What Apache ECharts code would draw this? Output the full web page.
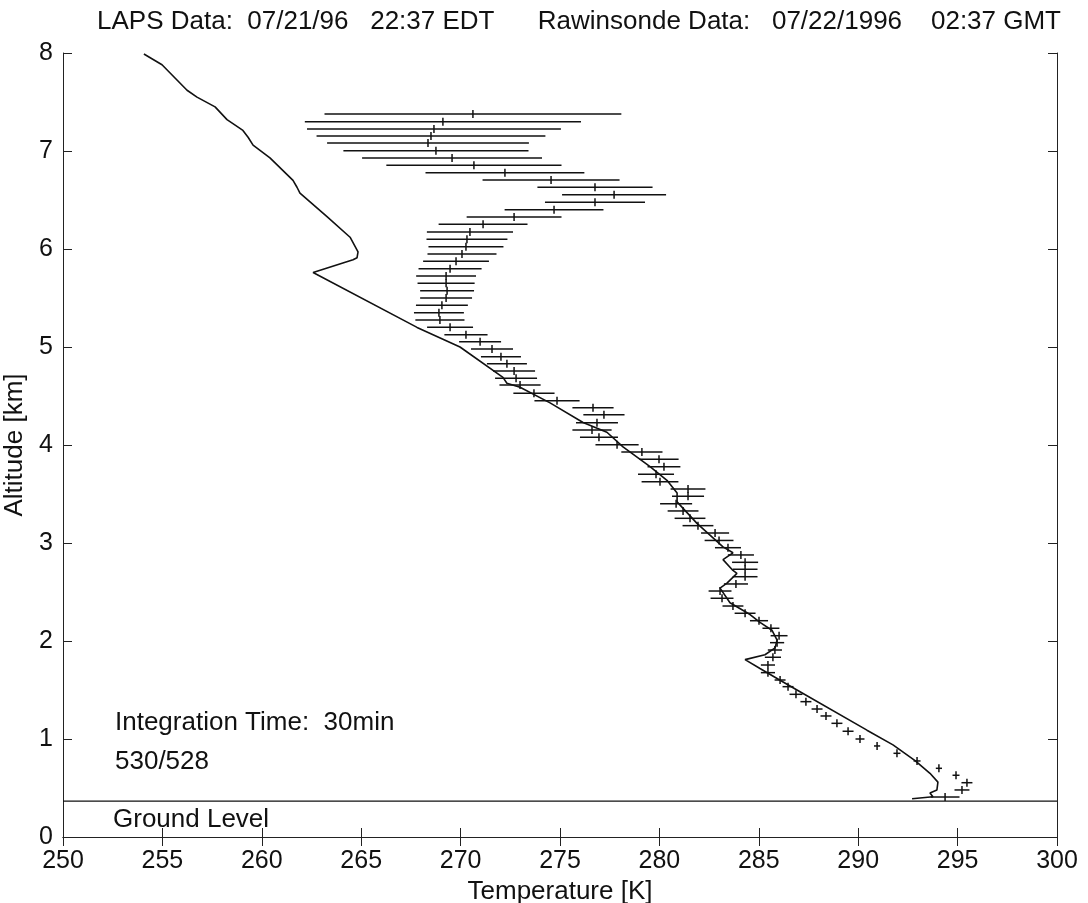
<!DOCTYPE html>
<html>
<head>
<meta charset="utf-8">
<title>LAPS vs Rawinsonde</title>
<script src="https://cdn.jsdelivr.net/npm/echarts@6/dist/echarts.min.js"></script>
<style>
  html, body { margin: 0; padding: 0; background: #fff; }
  #chart { width: 1088px; height: 903px; }
</style>
</head>
<body>
<div id="chart"></div>
<script>
// LAPS temperature profile (solid line)
var lapsTemp = [254.07,254.98,256.24,256.74,257.65,258.25,259.05,259.31,259.56,260.41,261.57,261.77,261.92,263.28,264.44,264.84,264.79,264.59,262.58,267.81,269.97,272.13,272.33,272.99,274.50,276.16,277.36,278.17,279.53,280.38,280.89,280.89,281.89,283.20,283.70,283.20,283.70,283.90,283.40,283.05,283.55,284.56,285.06,285.66,285.92,285.82,285.31,284.31,285.06,286.07,286.92,290.44,291.75,292.86,292.96,293.61,294.01,293.96,293.61,293.76,292.71];
var lapsAlt = [7.99,7.88,7.62,7.55,7.45,7.32,7.21,7.14,7.06,6.93,6.70,6.63,6.57,6.33,6.12,5.97,5.91,5.89,5.76,5.20,5.00,4.69,4.63,4.59,4.43,4.23,4.13,3.98,3.78,3.64,3.51,3.42,3.20,2.96,2.90,2.83,2.72,2.69,2.59,2.54,2.39,2.27,2.19,2.11,2.01,1.93,1.86,1.81,1.72,1.60,1.50,1.09,0.94,0.78,0.76,0.65,0.56,0.48,0.45,0.41,0.39];

// rawinsonde / lidar retrieval with error bars
var sondeAlt = [7.378,7.299,7.224,7.153,7.082,7.003,6.929,6.854,6.779,6.704,6.630,6.554,6.477,6.401,6.327,6.252,6.173,6.099,6.023,5.949,5.874,5.799,5.724,5.650,5.574,5.500,5.426,5.350,5.276,5.201,5.126,5.054,4.980,4.901,4.830,4.755,4.681,4.612,4.528,4.452,4.381,4.309,4.228,4.153,4.079,4.003,3.929,3.854,3.779,3.701,3.626,3.551,3.477,3.401,3.327,3.252,3.177,3.102,3.026,2.952,2.878,2.803,2.732,2.656,2.582,2.510,2.436,2.357,2.283,2.207,2.130,2.054,1.983,1.908,1.834,1.755,1.677,1.602,1.534,1.456,1.381,1.306,1.235,1.160,1.079,1.000,0.929,0.854,0.776,0.701,0.630,0.554,0.480,0.408];
var sondeTemp = [270.62,269.11,268.66,268.51,268.36,268.76,269.57,270.67,272.23,274.55,276.76,277.72,276.76,274.70,272.69,271.13,270.47,270.32,270.27,270.07,269.77,269.47,269.27,269.27,269.32,269.27,269.06,268.91,268.96,269.47,270.27,270.98,271.58,272.03,272.33,272.69,272.79,272.99,273.69,274.85,276.66,277.21,276.86,276.61,276.96,277.87,279.12,279.98,280.23,279.83,280.03,281.44,281.44,280.84,281.19,281.54,281.94,282.80,283.00,283.45,284.10,284.31,284.31,284.31,283.85,283.05,283.15,283.70,284.31,285.01,285.61,286.02,285.92,285.81,285.71,285.46,285.46,286.07,286.47,286.87,287.37,287.93,288.38,288.93,289.49,290.09,290.95,291.95,292.96,294.06,294.92,295.47,295.22,294.37];
var sondeErr = [7.34,6.82,6.26,5.63,4.95,4.53,4.40,4.28,3.87,3.32,2.77,2.49,2.39,2.36,2.26,2.11,2.04,1.91,1.76,1.61,1.53,1.46,1.38,1.31,1.23,1.18,1.18,1.13,1.11,1.03,0.96,0.93,0.93,0.88,0.88,0.93,0.93,0.91,0.91,1.01,0.91,0.91,0.93,0.86,0.83,0.96,0.91,0.86,0.70,0.78,0.80,0.75,0.68,0.68,0.65,0.65,0.65,0.58,0.60,0.53,0.53,0.53,0.50,0.50,0.48,0.45,0.45,0.40,0.40,0.33,0.30,0.30,0.23,0.23,0.28,0.23,0.23,0.15,0.15,0.20,0.15,0.15,0.15,0.15,0.15,0.10,0.03,0.05,0.05,0.03,0.05,0.15,0.25,0.60];

var groundAlt = 0.367;
var siteTemp = 291.75;
var tempRange = [250, 300];

var FONT = '"Liberation Sans", Arial, Helvetica, sans-serif';

var lapsData = [];
for (var i = 0; i < lapsTemp.length; i++) lapsData.push([lapsTemp[i], lapsAlt[i]]);
var sondeData = [];
for (var j = 0; j < sondeAlt.length; j++) sondeData.push([sondeTemp[j], sondeAlt[j], sondeErr[j]]);

var chart = echarts.init(document.getElementById('chart'));

var axisLine = { show: true, lineStyle: { color: '#222', width: 1 } };
var axisTick = { show: true, inside: true, length: 9, lineStyle: { color: '#222', width: 1 } };

chart.setOption({
    backgroundColor: '#fff',
    animation: false,
    title: {
        text: 'LAPS Data:  07/21/96   22:37 EDT      Rawinsonde Data:   07/22/1996    02:37 GMT',
        left: 92,
        top: 4,
        textStyle: { fontFamily: FONT, fontSize: 26, fontWeight: 'normal', color: '#111' }
    },
    grid: { left: 63, right: 31, top: 53, bottom: 66, outerBoundsMode: 'none' },
    xAxis: [
        {
            type: 'value', min: tempRange[0], max: tempRange[1], interval: 5,
            name: 'Temperature [K]', nameLocation: 'middle', nameGap: 38,
            nameTextStyle: { fontFamily: FONT, fontSize: 26, color: '#111' },
            axisLine: axisLine, axisTick: axisTick, splitLine: { show: false },
            axisLabel: { margin: 12, fontFamily: FONT, fontSize: 25, color: '#111' }
        },
        {
            type: 'value', position: 'top', min: tempRange[0], max: tempRange[1], interval: 5,
            axisLine: axisLine, axisTick: axisTick, splitLine: { show: false },
            axisLabel: { show: false }
        }
    ],
    yAxis: [
        {
            type: 'value', min: 0, max: 8, interval: 1,
            name: 'Altitude [km]', nameLocation: 'middle', nameGap: 26,
            nameTextStyle: { fontFamily: FONT, fontSize: 26, color: '#111' },
            axisLine: axisLine, axisTick: axisTick, splitLine: { show: false },
            axisLabel: { margin: 10, fontFamily: FONT, fontSize: 25, color: '#111' }
        },
        {
            type: 'value', position: 'right', min: 0, max: 8, interval: 1,
            axisLine: axisLine, axisTick: axisTick, splitLine: { show: false },
            axisLabel: { show: false }
        }
    ],
    graphic: [
        { type: 'text', left: 115, top: 710, style: { text: 'Integration Time:  30min', font: '26px ' + FONT, fill: '#111' } },
        { type: 'text', left: 115, top: 749, style: { text: '530/528', font: '26px ' + FONT, fill: '#111' } },
        { type: 'text', left: 113, top: 807, style: { text: 'Ground Level', font: '26px ' + FONT, fill: '#111' } }
    ],
    series: [
        {
            name: 'Ground',
            type: 'line',
            data: [[tempRange[0], groundAlt], [tempRange[1], groundAlt]],
            showSymbol: false,
            lineStyle: { color: '#111', width: 1.2 },
            silent: true
        },
        {
            name: 'LAPS',
            type: 'line',
            data: lapsData,
            showSymbol: false,
            smooth: false,
            lineStyle: { color: '#111', width: 1.6 }
        },
        {
            name: 'Rawinsonde',
            type: 'custom',
            encode: { x: 0, y: 1 },
            data: sondeData,
            renderItem: function (params, api) {
                var t = api.value(0), a = api.value(1), e = api.value(2);
                var pl = api.coord([t - e, a]);
                var pr = api.coord([t + e, a]);
                var pc = api.coord([t, a]);
                var st = { stroke: '#111', lineWidth: 1.5 };
                return {
                    type: 'group',
                    children: [
                        { type: 'line', shape: { x1: pl[0] - 2.5, y1: pl[1], x2: pr[0] + 2.5, y2: pr[1] }, style: st },
                        { type: 'line', shape: { x1: pc[0], y1: pc[1] - 4, x2: pc[0], y2: pc[1] + 4 }, style: st }
                    ]
                };
            }
        },
        {
            name: 'Site',
            type: 'scatter',
            data: [[siteTemp, groundAlt]],
            symbol: 'emptyCircle',
            symbolSize: 15,
            itemStyle: { color: '#fff', borderColor: '#111', borderWidth: 1.3 }
        }
    ]
});
</script>
</body>
</html>
